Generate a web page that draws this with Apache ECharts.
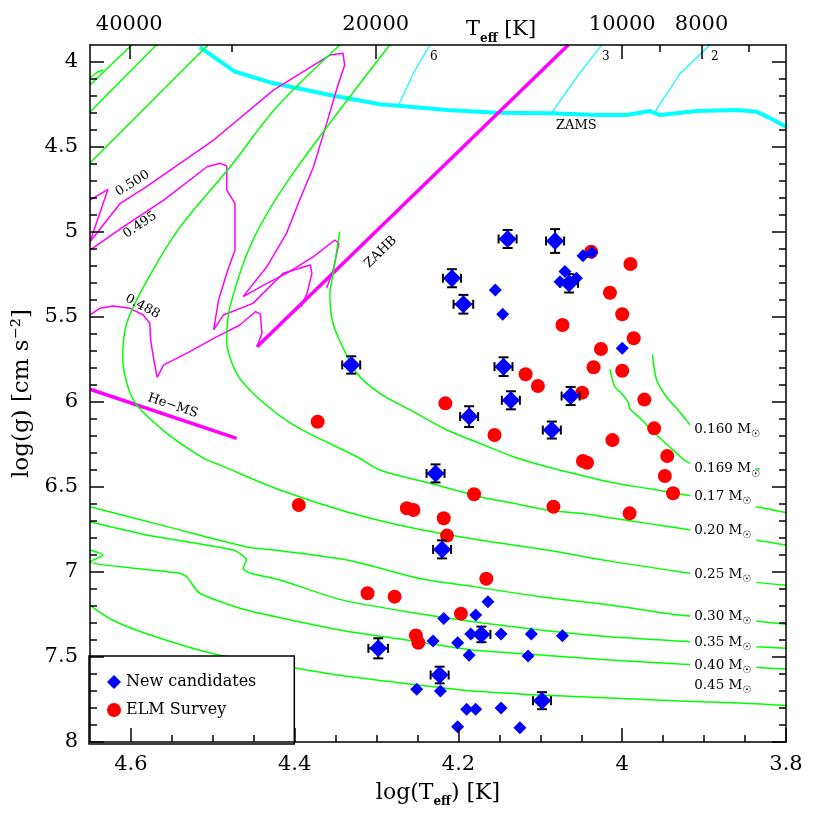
<!DOCTYPE html>
<html><head><meta charset="utf-8">
<script src="https://cdn.jsdelivr.net/npm/echarts@6/dist/echarts.min.js"></script>
<style>html,body{margin:0;padding:0;background:#fff}#c{width:830px;height:830px}</style>
</head><body><div id="c"></div>
<script>
// ---------------- DATA (log Teff, log g) ----------------
// New candidates with error bars
const bigT = [4.140,4.082,4.208,4.194,4.065,4.145,4.136,4.063,4.187,4.086,4.331,4.228,4.220,4.172,4.298,4.223,4.098];
const bigG = [5.041,5.053,5.272,5.425,5.302,5.792,5.990,5.965,6.086,6.165,5.782,6.420,6.867,7.367,7.449,7.606,7.757];
const errT = [0.011,0.011,0.011,0.012,0.011,0.011,0.011,0.011,0.011,0.011,0.011,0.011,0.011,0.011,0.012,0.011,0.011];
const errG = [0.053,0.070,0.053,0.055,0.054,0.055,0.053,0.053,0.061,0.050,0.051,0.053,0.053,0.046,0.059,0.049,0.050];
// New candidates without error bars
const smT = [4.048,4.037,4.070,4.076,4.056,4.155,4.146,4.000,4.164,4.179,4.218,4.185,4.148,4.111,4.073,4.231,4.201,4.187,4.115,4.251,4.222,4.190,4.179,4.148,4.201,4.125];
const smG = [5.139,5.120,5.233,5.292,5.272,5.341,5.484,5.684,7.175,7.253,7.273,7.365,7.365,7.365,7.375,7.406,7.416,7.490,7.494,7.690,7.700,7.808,7.808,7.800,7.910,7.916];
// ELM Survey
const elmT = [4.038,3.990,4.015,4.000,4.073,3.986,4.026,4.035,4.000,4.118,4.103,4.049,3.973,4.216,4.372,4.156,4.012,3.961,4.048,4.043,3.945,3.948,3.938,4.181,4.084,3.991,4.395,4.263,4.255,4.218,4.214,4.166,4.311,4.278,4.197,4.252,4.249];
const elmG = [5.116,5.188,5.357,5.484,5.547,5.625,5.688,5.796,5.816,5.837,5.906,5.945,5.986,6.008,6.116,6.194,6.224,6.155,6.347,6.357,6.318,6.435,6.537,6.543,6.616,6.655,6.606,6.625,6.635,6.684,6.786,7.040,7.125,7.145,7.245,7.373,7.416];

// ELM cooling tracks (green)
const g160 = [[3.963,5.720],[3.958,5.871],[3.946,5.969],[3.930,6.057],[3.917,6.135]];
const g169 = [[4.015,5.808],[4.009,5.910],[4.001,5.949],[3.993,5.998],[3.991,6.037],[3.978,6.096],[3.960,6.184],[3.938,6.282],[3.917,6.361],[3.874,6.376],[3.832,6.394]];
const g170 = [[4.345,4.998],[4.353,5.243],[4.357,5.361],[4.355,5.498],[4.349,5.596],[4.324,5.831],[4.296,5.949],[4.255,6.057],[4.214,6.165],[4.174,6.243],[4.133,6.322],[4.092,6.381],[4.052,6.429],[4.011,6.475],[3.970,6.508],[3.938,6.534],[3.837,6.616],[3.799,6.651]];
const g200 = [[4.284,3.900],[4.402,4.655],[4.451,5.047],[4.479,5.439],[4.483,5.635],[4.471,5.831],[4.442,5.988],[4.398,6.145],[4.324,6.322],[4.296,6.400],[4.235,6.478],[4.174,6.557],[4.133,6.596],[4.092,6.635],[4.052,6.655],[4.011,6.684],[3.970,6.714],[3.930,6.743],[3.837,6.812],[3.799,6.843]];
const g250 = [[4.345,3.900],[4.422,4.265],[4.479,4.618],[4.540,4.971],[4.580,5.282],[4.605,5.535],[4.610,5.735],[4.597,5.988],[4.561,6.165],[4.512,6.329],[4.491,6.371],[4.418,6.518],[4.336,6.647],[4.256,6.741],[4.174,6.812],[4.092,6.871],[4.011,6.939],[3.930,6.998],[3.837,7.061],[3.799,7.078]];
const g300 = [[4.650,6.616],[4.556,6.733],[4.459,6.851],[4.418,6.875],[4.336,6.929],[4.288,6.988],[4.243,7.043],[4.182,7.086],[4.100,7.145],[4.015,7.194],[3.930,7.253],[3.839,7.288],[3.799,7.308]];
const g350 = [[4.650,6.704],[4.581,6.782],[4.475,6.871],[4.459,6.929],[4.463,6.978],[4.455,7.006],[4.418,7.047],[4.345,7.161],[4.263,7.234],[4.182,7.292],[4.100,7.341],[4.015,7.381],[3.930,7.406],[3.837,7.439],[3.799,7.449]];
const g400 = [[4.650,6.871],[4.634,6.900],[4.650,6.939],[4.540,7.008],[4.532,7.028],[4.516,7.125],[4.459,7.224],[4.345,7.341],[4.263,7.400],[4.182,7.459],[4.100,7.488],[4.015,7.518],[3.930,7.541],[3.839,7.561],[3.799,7.571]];
const g450 = [[4.650,7.196],[4.622,7.284],[4.581,7.363],[4.499,7.481],[4.406,7.559],[4.345,7.608],[4.263,7.657],[4.182,7.700],[4.100,7.724],[4.015,7.741],[3.930,7.759],[3.837,7.775],[3.799,7.786]];
const gA = [[4.650,4.135],[4.599,3.900]];
const gB = [[4.650,4.294],[4.569,3.900]];
const gC = [[4.650,4.594],[4.506,3.900]];
const gHook = [[4.650,4.094],[4.641,4.059],[4.634,4.047]];

// sdB / EHB tracks (thin magenta)
const m500 = [[4.650,4.812],[4.628,4.749],[4.650,5.057],[4.613,4.831],[4.581,4.733],[4.499,4.459],[4.426,4.165],[4.357,3.959],[4.341,3.949],[4.339,4.018],[4.349,4.165],[4.361,4.361],[4.377,4.616],[4.394,4.812],[4.410,5.008],[4.434,5.204],[4.463,5.380],[4.434,5.302],[4.410,5.243],[4.377,5.145],[4.351,5.047],[4.346,5.067],[4.353,5.224],[4.361,5.331]];
const m495 = [[4.650,5.106],[4.609,4.969],[4.560,4.812],[4.507,4.616],[4.491,4.596],[4.483,4.612],[4.483,4.753],[4.473,4.831],[4.473,5.106],[4.483,5.243],[4.493,5.400],[4.499,5.576],[4.487,5.488],[4.451,5.420],[4.414,5.243],[4.381,5.194],[4.379,5.243],[4.385,5.361],[4.392,5.439]];
const m488 = [[4.650,5.488],[4.638,5.449],[4.622,5.435],[4.601,5.449],[4.585,5.488],[4.577,5.537],[4.576,5.635],[4.572,5.753],[4.568,5.855],[4.560,5.782],[4.532,5.714],[4.499,5.626],[4.467,5.547],[4.448,5.469],[4.442,5.482],[4.440,5.596],[4.446,5.675]];
const zahb = [[4.446,5.675],[4.066,3.900]];
const heMS = [[4.650,5.925],[4.471,6.214]];

// main sequence (cyan)
const zams = [[4.516,3.912],[4.473,4.057],[4.427,4.124],[4.357,4.194],[4.296,4.249],[4.273,4.257],[4.214,4.282],[4.153,4.298],[4.088,4.302],[4.031,4.312],[3.995,4.312],[3.966,4.288],[3.962,4.298],[3.954,4.312],[3.909,4.288],[3.858,4.282],[3.836,4.292],[3.815,4.341],[3.799,4.384]];
const iso6 = [[4.273,4.253],[4.255,4.066],[4.235,3.900]];
const iso3 = [[4.086,4.298],[4.052,4.066],[4.025,3.900]];
const iso2 = [[3.960,4.292],[3.929,4.066],[3.893,3.900]];

// labels
const massNames = ['0.160','0.169','0.17','0.20','0.25','0.30','0.35','0.40','0.45'];
const massLabelG = [6.159,6.394,6.553,6.753,7.012,7.263,7.412,7.551,7.665];
const massLabelT = 3.917;
const annoText = ['ZAMS','6','3','2','0.500','0.495','0.488','He\u2212MS','ZAHB'];
const annoT = [4.056,4.230,4.020,3.887,4.598,4.589,4.586,4.549,4.295];
const annoG = [4.376,3.972,3.972,3.972,4.714,4.959,5.439,6.022,5.118];

// axis ticks
const xMin = 3.8, xMax = 4.65, yMin = 3.9, yMax = 8.0;
const xMajor = [3.8,4.0,4.2,4.4,4.6];
const xMinorStep = 0.05;
const yMajor = [4,4.5,5,5.5,6,6.5,7,7.5,8];
const yMinorStep = 0.1;
const topMajorK = [40000,20000,10000,8000];
const topMinorK = [30000,9000,7000];

// ---------------- STYLE / LAYOUT ----------------
const F = 'DejaVu Serif';
const annoRot = [0,0,0,0,32,34,-28,-18.5,44];
const annoSize = [13,12,12,12,13,13,13,13,13];
const GRID = {left:90, right:44, top:45, bottom:88};
const W = 830, H = 830;
const MAJ = 14, MIN = 7; // tick lengths in px
// data units per pixel (from grid size), used only to size tick marks
const tPerPx = (xMax - xMin) / (W - GRID.left - GRID.right);
const gPerPx = (yMax - yMin) / (H - GRID.top - GRID.bottom);

const zip = (a,b) => a.map((v,i)=>[v,b[i]]);
const lg = v => Math.log10(v);
const ts = () => ({color:'#000', width:1.5});
const near = (v, arr) => arr.some(a => Math.abs(a - v) < 1e-6);

// tick segments (each a pair of coords)
const tickSegs = [];
function xTick(v, len, top) {
  if (top) tickSegs.push({coords:[[v, yMin],[v, yMin + len*gPerPx]]});
  else tickSegs.push({coords:[[v, yMax],[v, yMax - len*gPerPx]]});
}
function yTick(v, len) {
  tickSegs.push({coords:[[xMax, v],[xMax - len*tPerPx, v]]});
  tickSegs.push({coords:[[xMin, v],[xMin + len*tPerPx, v]]});
}
xMajor.forEach(v => xTick(v, MAJ, false));
for (let k = 1; xMin + k*xMinorStep < xMax - 1e-6; k++) {
  const v = +(xMin + k*xMinorStep).toFixed(3);
  if (!near(v, xMajor)) xTick(v, MIN, false);
}
topMajorK.forEach(t => xTick(lg(t), MAJ, true));
topMinorK.forEach(t => xTick(lg(t), MIN, true));
yMajor.forEach(v => yTick(v, MAJ));
for (let k = 1; yMin + k*yMinorStep < yMax - 1e-6; k++) {
  const v = +(yMin + k*yMinorStep).toFixed(3);
  if (!near(v, yMajor)) yTick(v, MIN);
}

function lineSeries(data, color, width, smooth) {
  return {type:'line', data, symbol:'none', showSymbol:false, smooth: smooth||false,
    lineStyle:{color, width}, z:2, silent:true, clip:true, xAxisIndex:0, yAxisIndex:0};
}
const hideTick = {show:false};

const option = {
  animation:false,
  backgroundColor:'#fff',
  grid:GRID,
  title:{text:'{a|T}{s|eff}{a| [K]}', left:461, top:10,
    textStyle:{fontWeight:'normal', rich:{a:{fontFamily:F, fontSize:21, fontWeight:'normal', color:'#000', lineHeight:30},
      s:{fontFamily:F, fontSize:12, fontWeight:'bold', color:'#000', lineHeight:14, verticalAlign:'bottom'}}}},
  legend:{data:[{name:'New candidates', icon:'diamond'},{name:'ELM Survey', icon:'circle'}],
    orient:'vertical', left:89, top:656, itemWidth:14, itemHeight:14, itemGap:12,
    padding:[18,38,26,18], backgroundColor:'#fff', borderColor:'#000', borderWidth:1.5, borderRadius:0,
    textStyle:{fontFamily:F, fontSize:16, color:'#000'}, z:4},
  xAxis:[
    {type:'value', min:xMin, max:xMax, inverse:true, position:'bottom', interval:0.2, z:6,
      splitLine:{show:false}, axisLine:{show:true, onZero:false, lineStyle:ts()}, axisTick:hideTick,
      axisLabel:{fontFamily:F, fontSize:21, color:'#000', margin:12, showMaxLabel:false,
        formatter: v => (Math.abs(v-4.65)<1e-6 ? '' : String(+v.toFixed(2)))},
      name:'{a|log(T}{s|eff}{a|) [K]}', nameLocation:'middle', nameGap:36,
      nameTextStyle:{rich:{a:{fontFamily:F, fontSize:22, color:'#000', lineHeight:30},
        s:{fontFamily:F, fontSize:12, fontWeight:'bold', color:'#000', lineHeight:14, verticalAlign:'bottom'}}}},
    {type:'value', min:xMin, max:xMax, inverse:true, position:'top', z:6,
      splitLine:{show:false}, axisLine:{show:true, onZero:false, lineStyle:ts()}, axisTick:hideTick,
      axisLabel:{show:true, fontFamily:F, fontSize:21, color:'#000', margin:10,
        customValues: topMajorK.map(lg), formatter: v => String(Math.round(Math.pow(10,v)/100)*100)}}
  ],
  yAxis:[
    {type:'value', min:yMin, max:yMax, inverse:true, position:'left', z:6,
      splitLine:{show:false}, axisLine:{show:true, onZero:false, lineStyle:ts()}, axisTick:hideTick,
      axisLabel:{fontFamily:F, fontSize:21, color:'#000', margin:12, customValues:yMajor},
      name:'log(g) [cm s\u207B\u00B2]', nameLocation:'middle', nameGap:52,
      nameTextStyle:{fontFamily:F, fontSize:23, color:'#000'}},
    {type:'value', min:yMin, max:yMax, inverse:true, position:'right', z:6,
      splitLine:{show:false}, axisLine:{show:true, onZero:false, lineStyle:ts()}, axisTick:hideTick,
      axisLabel:{show:false}}
  ],
  series:[
    // axis tick marks first so they are rendered early
    {type:'lines', name:'ticks', coordinateSystem:'cartesian2d', xAxisIndex:0, yAxisIndex:0,
      data: tickSegs, polyline:false, silent:true, z:9, clip:false,
      lineStyle:{color:'#000', width:1.5, opacity:1, curveness:0}, effect:{show:false}},
    lineSeries(zams,'#00ffff',4),
    lineSeries(iso6,'#00ffff',1.2), lineSeries(iso3,'#00ffff',1.2), lineSeries(iso2,'#00ffff',1.2),
    lineSeries(m500,'#ff00ff',1.5), lineSeries(m495,'#ff00ff',1.5), lineSeries(m488,'#ff00ff',1.5),
    lineSeries(zahb,'#ff00ff',3.5), lineSeries(heMS,'#ff00ff',3.5),
    lineSeries(gA,'#00ff00',1.5), lineSeries(gB,'#00ff00',1.5), lineSeries(gC,'#00ff00',1.5), lineSeries(gHook,'#00ff00',1.5),
    lineSeries(g160,'#00ff00',1.5,0.3), lineSeries(g169,'#00ff00',1.5,0.3), lineSeries(g170,'#00ff00',1.5,0.3),
    lineSeries(g200,'#00ff00',1.5,0.3), lineSeries(g250,'#00ff00',1.5,0.3), lineSeries(g300,'#00ff00',1.5,0.3),
    lineSeries(g350,'#00ff00',1.5,0.2), lineSeries(g400,'#00ff00',1.5,0.2), lineSeries(g450,'#00ff00',1.5,0.3),
    // data
    {type:'scatter', name:'ELM Survey', data: zip(elmT, elmG), symbol:'circle', symbolSize:14,
      itemStyle:{color:'#ff0000', opacity:1}, z:4},
    {type:'custom', name:'errors', data: bigT.map((t,i)=>[t, bigG[i], errT[i], errG[i]]), encode:{x:0,y:1}, z:5, silent:true,
      renderItem:(params, api) => {
        const T = api.value(0), g = api.value(1), ex = api.value(2), ey = api.value(3);
        const c = api.coord([T,g]);
        const l = api.coord([T+ex,g]), r = api.coord([T-ex,g]);
        const t = api.coord([T,g-ey]), b = api.coord([T,g+ey]);
        const st = {stroke:'#000', lineWidth:2};
        const hc = 4.5, vc = 5;
        return {type:'group', children:[
          {type:'line', shape:{x1:l[0],y1:c[1],x2:r[0],y2:c[1]}, style:st},
          {type:'line', shape:{x1:c[0],y1:t[1],x2:c[0],y2:b[1]}, style:st},
          {type:'line', shape:{x1:l[0],y1:c[1]-hc,x2:l[0],y2:c[1]+hc}, style:st},
          {type:'line', shape:{x1:r[0],y1:c[1]-hc,x2:r[0],y2:c[1]+hc}, style:st},
          {type:'line', shape:{x1:c[0]-vc,y1:t[1],x2:c[0]+vc,y2:t[1]}, style:st},
          {type:'line', shape:{x1:c[0]-vc,y1:b[1],x2:c[0]+vc,y2:b[1]}, style:st}
        ]};
      }},
    {type:'scatter', name:'New candidates', data: zip(smT, smG), symbol:'diamond', symbolSize:13,
      itemStyle:{color:'#0000ff', opacity:1}, z:6},
    {type:'scatter', name:'New candidates', data: zip(bigT, bigG), symbol:'diamond', symbolSize:18,
      itemStyle:{color:'#0000ff', opacity:1}, z:6},
    // annotations
    {type:'custom', data: zip(annoT, annoG), encode:{x:0,y:1}, z:3, silent:true,
      renderItem:(params, api) => {
        const i = params.dataIndex;
        const p = api.coord([api.value(0), api.value(1)]);
        return {type:'text', x:p[0], y:p[1], rotation: annoRot[i]*Math.PI/180,
          style:{text: annoText[i], fontFamily:F, fontSize: annoSize[i], fill:'#000', align:'center', verticalAlign:'middle'}};
      }},
    // mass labels
    {type:'custom', data: massLabelG.map(g => [massLabelT, g]), encode:{x:0,y:1}, z:3, silent:true,
      renderItem:(params, api) => {
        const i = params.dataIndex;
        const p = api.coord([api.value(0), api.value(1)]);
        return {type:'text', x:p[0], y:p[1],
          style:{text:'{n|' + massNames[i] + ' M}{o|\u2609}', align:'left', verticalAlign:'middle',
            backgroundColor:'#fff', padding:[1,2,1,4], width:60,
            rich:{n:{fontFamily:F, fontSize:13.5, fill:'#000', lineHeight:20},
                  o:{fontFamily:'DejaVu Sans', fontSize:10, fill:'#000', lineHeight:10, verticalAlign:'bottom'}}}};
      }}
  ]
};
const chart = echarts.init(document.getElementById('c'));
try { chart.setOption(option); } catch (e) { console.error(e); }
</script>
</body></html>
